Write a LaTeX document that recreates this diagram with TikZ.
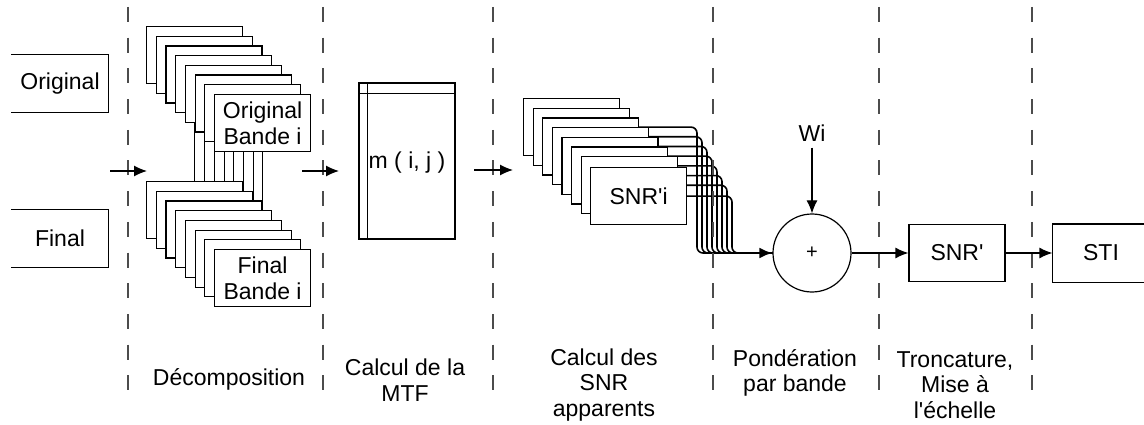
\documentclass[tikz,border=0pt]{standalone}
\usepackage{fontspec}
\setmainfont{Liberation Sans}
\usetikzlibrary{arrows.meta,positioning,backgrounds}

\newcommand{\boxfont}{\fontsize{23}{25.5}\selectfont}
\newcommand{\smallfont}{\fontsize{20}{25}\selectfont}

\begin{document}
\begin{tikzpicture}[x=1pt, y=-1pt, line width=1.2pt,
    box/.style={draw, fill=white, minimum width=96pt, minimum height=57pt, inner sep=0pt, align=center, font=\boxfont},
    arr/.style={-{Latex[length=13pt,width=11pt]}},
    stage/.style={black!70, line width=2pt, dash pattern=on 15pt off 15.7pt},
    lbl/.style={align=center, inner sep=0pt, font=\boxfont}]
    \useasboundingbox (0,0) rectangle (1144,425);

    % Stage separators
    \foreach \x in {128,323,493,713,879,1032} {
        \draw[stage] (\x,7) -- (\x,395);
    }

    % Inputs
    \node[box, draw=none, fill=none] (orig) at (60,83.5) {Original};
    \draw (orig.north west) -- (orig.north east) -- (orig.south east) -- (orig.south west);
    \node[box, draw=none, fill=none] (final) at (60,238.5) {Final};
    \draw (final.north west) -- (final.north east) -- (final.south east) -- (final.south west);

    % Band decomposition
    \foreach \k in {0,...,6} {
        \node[box, anchor=north west] (o\k) at ({146+9.7*\k}, {26+9.7*\k}) {};
        \node[box, anchor=north west] (f\k) at ({146+9.7*\k}, {181+9.7*\k}) {};
    }
    \node[box, anchor=north west] (o7) at (214,94) {Original\\Bande i};
    \node[box, anchor=north west] (f7) at (214,249) {Final\\Bande i};

    % MTF matrix
    \node[box, minimum height=156pt] (mtf) at (407,161) {};
    \draw ([yshift=-11pt]mtf.north west) -- ([yshift=-11pt]mtf.north east);
    \draw ([xshift=9pt]mtf.north west) -- ([xshift=9pt]mtf.south west);
    \node[font=\boxfont, inner sep=0pt] (mij) at (407,163) {m ( i, j )};

    % Apparent SNR per band
    \foreach \k in {0,...,6} {
        \node[box, anchor=north west] (s\k) at ({523+9.6*\k}, {98+9.7*\k}) {};
    }
    \node[box, anchor=north west] (s7) at (590,167) {SNR\textquotesingle i};

    % Weighting
    \node[draw, circle, minimum size=78pt, inner sep=0pt, font=\smallfont] (plus) at (812,253) {+};
    \node[font=\boxfont, anchor=base, inner sep=5pt] (wi) at (812,142) {Wi};
    \foreach \k in {0,...,7} {
        \coordinate (t\k) at ({697+5*\k}, 253);
    }

    % Truncation and index
    \node[box] (snrp) at (957,253) {SNR\textquotesingle};
    \node[box, draw=none] (sti) at (1101,253) {STI};
    \draw (sti.north east) -- (sti.north west) -- (sti.south west) -- (sti.south east);

    % Links between stages
    \coordinate (a1s) at (110,171);
    \coordinate (a1e) at (147,171);
    \coordinate (a2s) at (302,171);
    \coordinate (a2e) at (339,171);
    \coordinate (a3s) at (474,170);
    \coordinate (a3e) at (513,170);
    \draw[arr] (a1s) -- (a1e);
    \draw[arr] (a2s) -- (a2e);
    \draw[arr] (a3s) -- (a3e);

    \begin{scope}[on background layer]
        \foreach \k in {0,...,7} {
            \draw (o\k.south) -- (f\k.north);
            \draw[line width=1.6pt, rounded corners=6pt] (s\k.center) -| (t\k) -- (plus.west);
        }
    \end{scope}
    \draw[arr, line width=2.5pt] (t7) -- (plus.west);
    \draw[arr] (wi.south) -- (plus.north);
    \draw[arr] (plus.east) -- (snrp.west);
    \draw[arr] (snrp.east) -- (sti.west);

    % Stage names
    \node[lbl] (ldec) at (229,379) {Décomposition};
    \node[lbl] (lmtf) at (405,380) {Calcul de la\\MTF};
    \node[lbl] (lsnr) at (604,385) {Calcul des\\SNR\\apparents};
    \node[lbl] (lpond) at (795,373) {Pondération\\par bande};
    \node[lbl] (ltronc) at (955,385) {Troncature,\\Mise à\\l\textquotesingle échelle};
\end{tikzpicture}
\end{document}
